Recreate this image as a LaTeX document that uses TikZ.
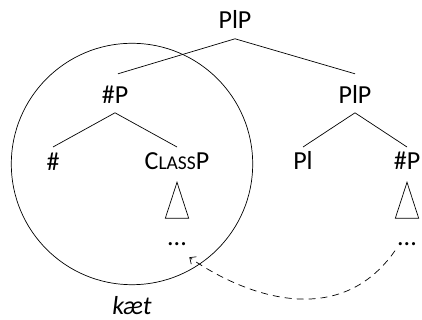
\documentclass[tikz,border=0pt]{standalone}
\usepackage{fontspec}
\setmainfont{Carlito}
\usetikzlibrary{arrows.meta}
\begin{document}
\begin{tikzpicture}[x=1pt,y=1pt,
  lab/.style={anchor=base,inner sep=0pt,font=\fontsize{26}{26}\selectfont},
  edge/.style={line width=0.7pt},
  movearrow/.style={line width=0.7pt,dash pattern=on 7pt off 5pt,-{Straight Barb[length=5pt,width=9pt,line width=0.7pt]}}]
\useasboundingbox (0,0) rectangle (422,320);
% nodes
\node[lab] (root) at (235,291.7) {PlP};
\node[lab] (hp)   at (115,216.7) {\#P};
\node[lab] (plp)  at (355,216.7) {PlP};
\node[lab] (hash) at (53,149.5)  {\#};
\node[lab] (cp)   at (177,150)   {C{\fontsize{19.5}{20}\selectfont LASS}P};
\node[lab] (pl)   at (303,150)   {Pl};
\node[lab] (hp2)  at (407,150)   {\#P};
\node[lab] (ld)   at (177,74)    {...};
\node[lab] (rd)   at (407,74)    {...};
\node[lab] (ket)  at (132,5)     {\itshape kæt};
% tree edges
\draw[edge] ([yshift=-10.5pt]root.base) -- ([xshift=3pt,yshift=29.5pt]hp.base);
\draw[edge] ([yshift=-10.5pt]root.base) -- ([yshift=29.5pt]plp.base);
\draw[edge] ([yshift=-9.5pt]hp.base) -- ([yshift=23.5pt]hash.base);
\draw[edge] ([yshift=-9.5pt]hp.base) -- ([yshift=23pt]cp.base);
\draw[edge] ([yshift=-9.5pt]plp.base) -- ([yshift=23pt]pl.base);
\draw[edge] ([yshift=-9.5pt]plp.base) -- ([yshift=23pt]hp2.base);
% triangles
\draw[edge] ([yshift=-12.3pt]cp.base) -- ++(-11.7,-36) -- ++(23.4,0) -- cycle;
\draw[edge] ([yshift=-12.3pt]hp2.base) -- ++(-11.7,-36) -- ++(23.4,0) -- cycle;
% circle
\draw[edge] (132,156) circle (120.7);
% movement arrow
\coordinate (from) at ([xshift=-12pt,yshift=-4.7pt]rd.base);
\coordinate (to) at ([xshift=12.3pt,yshift=-11.3pt]ld.base);
\draw[movearrow] (from) .. controls +(-125:100) and +(-35:63) .. (to);
\end{tikzpicture}
\end{document}
